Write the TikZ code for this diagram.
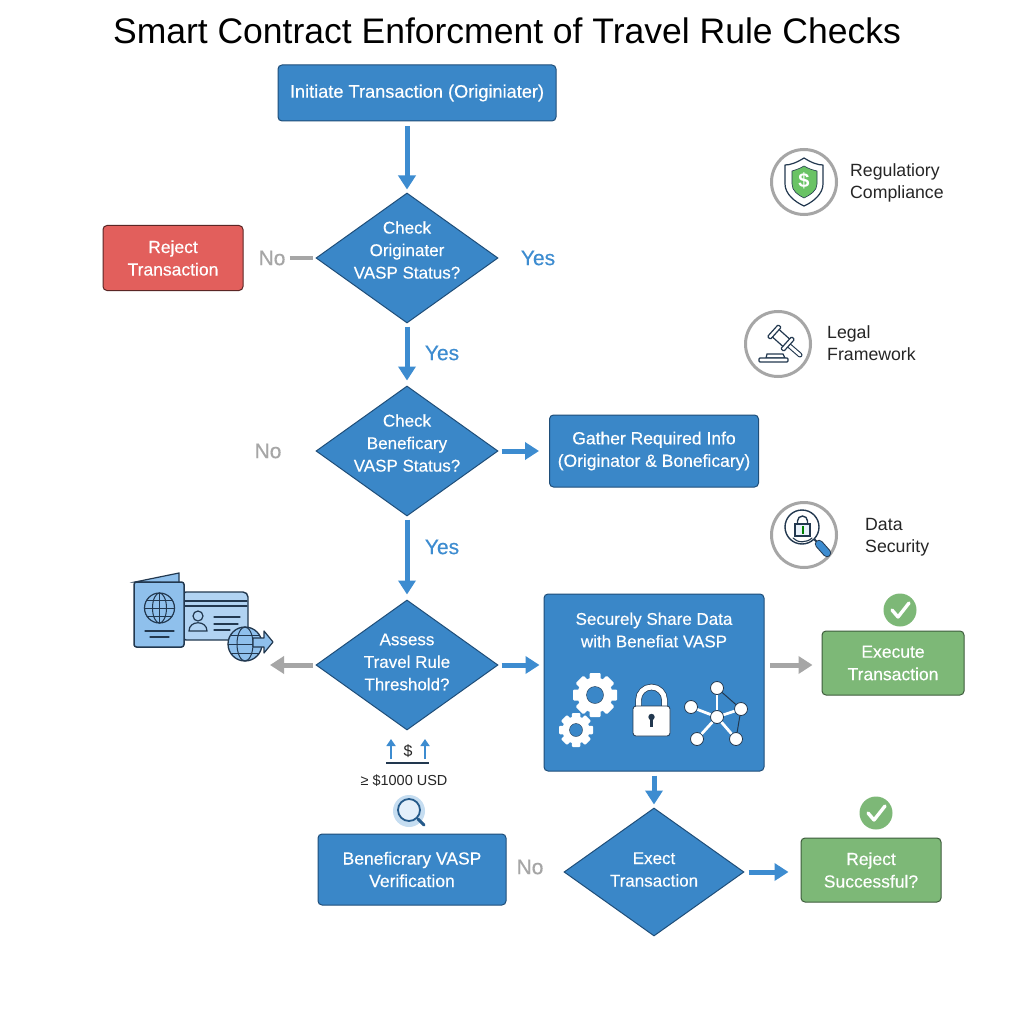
\documentclass[tikz,border=0pt]{standalone}
\usepackage{fontspec}
\setmainfont{Liberation Sans}
\newfontfamily\medfont[FakeBold=0.35]{Liberation Sans}
\usetikzlibrary{shapes.geometric,arrows.meta,calc}
\definecolor{bluef}{HTML}{3A87C8}
\definecolor{blued}{HTML}{1F4E79}
\definecolor{bluea}{HTML}{3D8CD0}
\definecolor{redf}{HTML}{E25F5C}
\definecolor{greenf}{HTML}{7DB877}
\definecolor{grayl}{HTML}{A6A6A6}
\definecolor{inkc}{HTML}{22384F}
\definecolor{lightb}{HTML}{8FC0EC}
\tikzset{
 x=1pt,y=-1pt,
 boxbase/.style={rectangle,rounded corners=4pt,draw=blued,line width=1pt,text=white,align=center,font=\medfont\fontsize{17.5}{22.5}\selectfont},
 bluebox/.style={boxbase,fill=bluef},
 redbox/.style={boxbase,fill=redf,draw=black!60!redf},
 greenbox/.style={boxbase,fill=greenf,draw=black!50!greenf},
 decision/.style={diamond,aspect=1.4,inner sep=0pt,draw=blued,line width=1pt,fill=bluef},
 dectext/.style={text=white,align=center,font=\medfont\fontsize{17}{22.5}\selectfont},
 flow/.style={draw=bluea,line width=5pt,-{Triangle[length=14pt,width=17pt]}},
 gflow/.style={draw=grayl,line width=5pt,-{Triangle[length=14pt,width=17pt]}},
 yeslab/.style={text=bluea,font=\medfont\fontsize{21}{24}\selectfont},
 nolab/.style={text=grayl,font=\medfont\fontsize{21}{24}\selectfont},
 legend/.style={text=black!85,align=left,anchor=west,inner sep=0pt,font=\fontsize{17.7}{21.5}\selectfont},
 ring/.style={circle,draw=grayl,line width=3pt,fill=white,minimum size=65pt,inner sep=0pt},
 okdot/.style={circle,fill=greenf,minimum size=33pt,inner sep=0pt},
 tick/.style={draw=white,line width=3.4pt,line cap=round,line join=round},
 ink/.style={draw=inkc,line width=1.2pt,line cap=round},
 netdot/.style={circle,draw=inkc,line width=.8pt,fill=white,minimum size=13pt,inner sep=0pt},
 netline/.style={draw=white,line width=2.8pt}
}
\newcommand{\gearicon}[4]{% x y outer inner
 \foreach \a in {0,45,...,315}{
  \fill[white,rounded corners=1pt,rotate around={\a:(#1,#2)}] (#1-#3*0.25,#2-#3*0.7) rectangle (#1+#3*0.25,#2-#3);}
 \fill[white] (#1,#2) circle[radius=#3*0.8];
 \fill[bluef,draw=inkc,line width=.4pt] (#1,#2) circle[radius=#4];
}
\begin{document}
\begin{tikzpicture}
\useasboundingbox (0,0) rectangle (1024,1024);
\fill[white] (0,0) rectangle (1024,1024);
\node[font=\fontsize{35.5}{40}\selectfont,text=black] (title) at (507,31) {Smart Contract Enforcment of Travel Rule Checks};

% main boxes
\node[bluebox,font=\medfont\fontsize{18.2}{22.5}\selectfont,minimum width=278pt,minimum height=56pt] (init) at (417,93) {Initiate Transaction (Originiater)};
\node[decision,minimum width=182pt,minimum height=130pt] (d1) at (407,258) {};
\node[dectext] (d1t) at (407,250) {Check\\Originater\\VASP Status?};
\node[redbox,minimum width=140pt,minimum height=65pt] (rej) at (173,258) {Reject\\Transaction};
\node[decision,minimum width=182pt,minimum height=130pt] (d2) at (407,451) {};
\node[dectext] (d2t) at (407,443) {Check\\Beneficary\\VASP Status?};
\node[bluebox,minimum width=209pt,minimum height=72pt] (gather) at (654,451) {Gather Required Info\\(Originator \& Boneficary)};
\node[decision,minimum width=182pt,minimum height=130pt] (d3) at (407,665) {};
\node[dectext] (d3t) at (407,662) {Assess\\Travel Rule\\Threshold?};
\node[bluebox,minimum width=220pt,minimum height=177pt] (share) at (654,682.5) {};
\node[dectext] (sharetxt) at (654,630) {Securely Share Data\\with Benefiat VASP};
\node[greenbox,minimum width=142pt,minimum height=64pt] (exec) at (893,663) {Execute\\Transaction};
\node[decision,minimum width=180pt,minimum height=128pt] (d4) at (654,872) {};
\node[dectext] (d4t) at (654,869.5) {Exect\\Transaction};
\node[greenbox,minimum width=140pt,minimum height=64pt] (succ) at (871,870) {Reject\\Successful?};
\node[bluebox,minimum width=188pt,minimum height=71pt] (verif) at (412,869.5) {Beneficrary VASP\\Verification};

% labels
\node[nolab] (no1) at (272,258) {No};
\node[yeslab] (yes0) at (538,258) {Yes};
\node[yeslab] (yes1) at (442,353) {Yes};
\node[nolab] (no2) at (268,451) {No};
\node[yeslab] (yes2) at (442,547) {Yes};
\node[nolab] (no3) at (530,867) {No};

% connectors
\draw[flow,shorten <=5pt,shorten >=3pt] ([xshift=-10pt]init.south) -- (d1.north);
\draw[draw=grayl,line width=4.5pt,shorten <=1pt,shorten >=3pt] (no1.east) -- (d1.west);
\draw[flow,shorten <=3pt,shorten >=5pt] (d1.south) -- (d2.north);
\draw[flow,shorten <=3pt,shorten >=10pt] (d2.east) -- (gather.west);
\draw[flow,shorten <=3pt,shorten >=5pt] (d2.south) -- (d3.north);
\draw[flow,shorten <=3pt,shorten >=4pt] (d3.east) -- (d3.east -| share.west);
\coordinate (iconend) at (270,665);
\draw[gflow,shorten <=3pt] (d3.west) -- (iconend);
\coordinate (shr) at (764,665);
\draw[gflow,shorten <=6pt,shorten >=9pt] (shr) -- (shr -| exec.west);
\draw[flow,shorten <=4pt,shorten >=3pt] (share.south) -- (d4.north);
\draw[flow,shorten <=4pt,shorten >=12pt] (d4.east) -- (d4.east -| succ.west);

% check badges
\node[okdot] (ok1) at (900,610) {};
\draw[tick] (892,610) -- (898,617) -- (909,603);
\node[okdot] (ok2) at (876,813) {};
\draw[tick] (868,813) -- (874,820) -- (885,806);

% share icons
\gearicon{595}{695}{22}{8.5}
\gearicon{576}{730}{17}{6.5}
\draw[draw=inkc,line width=6.4pt] (638.5,708) -- (638.5,700) arc[start angle=180,end angle=360,radius=13] -- (664.5,708);
\draw[draw=white,line width=5pt] (638.5,708) -- (638.5,700) arc[start angle=180,end angle=360,radius=13] -- (664.5,708);
\fill[white,draw=inkc,line width=.8pt,rounded corners=3pt] (633,706) rectangle (670,736);
\fill[inkc] (651.5,717) circle[radius=3.2];
\fill[inkc] (650,718) rectangle (653,727);
\node[netdot] (n0) at (717,717) {};
\node[netdot] (n1) at (717,688) {};
\node[netdot] (n2) at (691,707) {};
\node[netdot] (n3) at (741,709) {};
\node[netdot] (n4) at (697,739) {};
\node[netdot] (n5) at (736,739) {};
\foreach \a/\b in {n0/n1,n0/n2,n0/n3,n0/n4,n0/n5}{\draw[netline] (\a) -- (\b);}
\draw[draw=inkc,line width=1pt] (n1) -- (n3) -- (n5);

% threshold annotation
\draw[draw=bluea,line width=2pt,-{Triangle[length=7pt,width=9pt]}] (391,759) -- (391,739);
\draw[draw=bluea,line width=2pt,-{Triangle[length=7pt,width=9pt]}] (425,759) -- (425,739);
\node[font=\fontsize{16}{18}\selectfont,text=black!85] (dollar) at (408,751) {\$};
\draw[draw=inkc,line width=1.2pt] (386,763) -- (429,763);
\node[font=\fontsize{14.5}{16}\selectfont,text=black!85] (amount) at (404,781) {≥ \$1000 USD};
\fill[bluea!30] (409,811) circle[radius=16];
\draw[draw=blued!80!bluea,line width=1.8pt,fill=white!75!lightb] (409,810) circle[radius=11];
\draw[draw=blued!80!bluea,line width=3pt,line cap=round] (418,819) -- (424,825);

% legend: compliance
\node[ring] (r1) at (804,182) {};
\draw[ink,line join=round,fill=white] (804,158) .. controls (812,163) and (818,165) .. (823,165) -- (823,184) .. controls (823,194) and (813,202) .. (804,206) .. controls (795,202) and (785,194) .. (785,184) -- (785,165) .. controls (790,165) and (796,163) .. (804,158) -- cycle;
\fill[greenf!85!green,draw=inkc,line width=.6pt] (804,166) .. controls (809,169) and (813,170) .. (817,171) -- (817,184) .. controls (817,191) and (810,195) .. (804,198) .. controls (798,195) and (792,191) .. (792,184) -- (792,171) .. controls (795,170) and (799,169) .. (804,166) -- cycle;
\node[text=white,font=\bfseries\fontsize{20}{20}\selectfont] (dol) at (804,181) {\$};
\node[legend] (l1) at (850,183) {Regulatiory\\Compliance};

% legend: legal
\node[ring] (r2) at (778,344) {};
\draw[draw=inkc,line width=5pt,line cap=round] (785,342) -- (800,355);
\draw[draw=white,line width=2.8pt,line cap=round] (785,342) -- (800,355);
\begin{scope}[rotate around={-42:(781,338)}]
\fill[white,draw=inkc,line width=1.2pt,rounded corners=1pt] (773,333) rectangle (789,343);
\fill[white,draw=inkc,line width=1.2pt,rounded corners=1pt] (770,330) rectangle (774,346);
\fill[white,draw=inkc,line width=1.2pt,rounded corners=1pt] (788,330) rectangle (792,346);
\end{scope}
\draw[ink,fill=white] (766,358) -- (767,354) -- (783,354) -- (785,358) -- cycle;
\draw[ink,fill=white,rounded corners=1pt] (759,358) rectangle (788,362);
\node[legend] (l2) at (827,343) {Legal\\Framework};

% legend: data
\node[ring] (r3) at (804,535) {};
\draw[draw=inkc,line width=1.4pt,fill=white] (802,527) circle[radius=17];
\draw[ink,line width=1.4pt] (797.5,524) -- (797.5,521) arc[start angle=180,end angle=360,radius=5] -- (807.5,524);
\draw[ink,line width=1.2pt,fill=white!80!lightb] (795,524) rectangle (810,536);
\fill[green!50!black] (801.5,526) rectangle (803.5,534);
\draw[ink,line width=1.1pt] (793,538) .. controls (797,543) and (807,543) .. (812,538);
\draw[draw=inkc,line width=2pt] (814,539) -- (819,544);
\draw[draw=inkc,line width=8.4pt,line cap=round] (819,544) -- (827,553);
\draw[draw=bluea,line width=6.4pt,line cap=round] (819,544) -- (827,553);
\node[legend] (l3) at (865,537) {Data\\Security};

% passport and card icon
\fill[lightb!70,draw=inkc,line width=1.4pt,rounded corners=2pt] (184,592) -- (245,592) -- (248,595) -- (248,640) -- (184,640) -- cycle;
\draw[ink,line width=1.3pt] (185,601) -- (247,601);
\draw[ink,line width=1.3pt] (185,606) -- (247,606);
\draw[ink] (198,616) circle[radius=5];
\draw[ink] (189,631) .. controls (189,620) and (207,620) .. (207,631) -- cycle;
\draw[ink] (214,617) -- (240,617);
\draw[ink] (214,624) -- (238,624);
\draw[ink] (214,630) -- (230,630);
\draw[ink,fill=lightb] (135,582) -- (179,573) -- (179,583) -- cycle;
\fill[lightb,draw=inkc,line width=1.5pt,rounded corners=2.5pt] (134,582) rectangle (184,647);
\draw[ink] (159.5,608) circle[radius=15];
\draw[ink,line width=1pt] (159.5,608) ellipse[x radius=7,y radius=15];
\draw[ink,line width=1pt] (159.5,593) -- (159.5,623);
\draw[ink,line width=1pt] (144.5,608) -- (174.5,608);
\draw[ink,line width=1pt] (147,600) -- (172,600);
\draw[ink,line width=1pt] (147,616) -- (172,616);
\draw[ink] (145,631) -- (174,631);
\draw[ink] (150,637) -- (169,637);
\fill[lightb,draw=inkc,line width=1.3pt] (245,644) circle[radius=17];
\draw[ink,line width=1pt] (245,644) ellipse[x radius=8,y radius=17];
\draw[ink,line width=1pt] (228,644) -- (262,644);
\draw[ink,line width=1pt] (231,635) -- (259,635);
\draw[ink,line width=1pt] (231,653) -- (259,653);
\fill[lightb,draw=inkc,line width=1.2pt,line join=round] (253,638) -- (264,638) -- (264,631) -- (273,642) -- (264,653) -- (264,647) -- (253,647) -- cycle;
\end{tikzpicture}
\end{document}
